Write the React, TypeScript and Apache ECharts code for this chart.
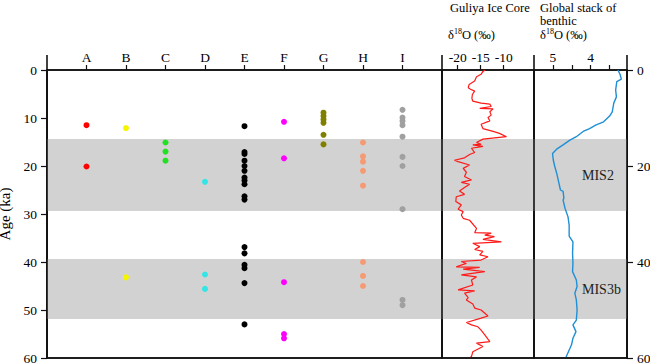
import React, { useEffect, useRef } from "react";
import * as echarts from "echarts";

// ---------- data ----------
const CATEGORIES = ["A", "B", "C", "D", "E", "F", "G", "H", "I"];
const AGES_A = [11.5, 20.1];
const AGES_B = [12.1, 43.2];
const AGES_C = [15.1, 17.0, 18.9];
const AGES_D = [23.3, 42.6, 45.6];
const AGES_E = [11.7, 17.1, 17.5, 18.9, 20.0, 21.0, 22.4, 23.0, 23.8, 26.3, 27.0, 36.9, 38.2, 40.6, 41.3, 44.4, 53.0];
const AGES_F = [10.8, 18.4, 44.2, 55.0, 55.9];
const AGES_G = [8.9, 9.6, 10.3, 11.0, 13.5, 15.5];
const AGES_H = [15.1, 18.0, 19.1, 21.0, 24.1, 40.0, 42.9, 45.0];
const AGES_I = [8.3, 9.9, 10.6, 11.5, 13.9, 18.1, 20.0, 29.0, 47.9, 49.0];
const SITE_AGES = [AGES_A, AGES_B, AGES_C, AGES_D, AGES_E, AGES_F, AGES_G, AGES_H, AGES_I];

const ICE_AGE = [
  0, 0.3, 0.9, 1.4, 2.3, 3.0, 3.7, 4.0, 4.4, 5.1, 5.9, 6.5, 6.9, 7.1, 7.6, 8.0, 8.1, 8.7, 9.4, 9.9,
  10.6, 11.3, 12.2, 12.8, 13.2, 13.9, 14.4, 15.1, 15.5, 15.6, 15.9, 16.3, 17.2, 17.6, 18.3, 18.8, 19.1, 19.8, 20.5, 21.3,
  22.2, 22.9, 23.4, 23.8, 24.5, 25.2, 25.9, 26.4, 27.4, 28.1, 29.0, 29.5, 30.2, 30.9, 31.3, 33.0, 33.9, 34.0, 34.4, 34.7,
  35.3, 35.8, 36.1, 36.8, 37.4, 37.8, 38.5, 38.9, 39.6, 39.9, 40.3, 41.0, 41.1, 41.5, 42.0, 42.7, 43.1, 43.75, 44.8, 45.8,
  46.0, 46.5, 47.4, 47.9, 48.75, 49.6, 50.0, 51.25, 51.7, 52.6, 53.1, 53.5, 54.2, 55.2, 56.6, 56.9, 57.6, 58.7, 59.7, 60
];
const ICE_D18O = [
  -14.0, -14.5, -14.9, -15.9, -16.3, -17.5, -17.7, -17.2, -16.3, -16.8, -16.9, -16.7, -14.9, -13.0, -12.7, -15.2, -12.3, -13.0, -12.7, -13.4,
  -13.0, -14.9, -14.5, -12.3, -10.9, -9.4, -14.5, -15.9, -14.9, -16.7, -14.5, -17.0, -16.3, -17.4, -18.5, -20.7, -19.9, -17.4, -18.8, -18.1,
  -18.5, -17.0, -19.2, -17.4, -18.5, -19.6, -18.5, -20.3, -20.4, -19.2, -19.9, -18.8, -19.2, -18.8, -17.4, -15.9, -16.3, -12.7, -14.1, -12.0,
  -14.5, -10.5, -16.7, -15.2, -16.3, -14.5, -15.2, -13.4, -14.9, -19.2, -18.1, -20.3, -15.2, -18.8, -14.1, -19.2, -15.9, -17.0, -16.7, -19.9,
  -16.3, -18.5, -17.7, -18.1, -16.7, -16.3, -14.9, -13.4, -14.9, -18.1, -17.0, -15.6, -14.9, -14.1, -13.0, -15.9, -14.5, -16.7, -17.0, -17.4
];

const BENTHIC_AGE = [
  0, 1.0, 1.9, 2.4, 4.2, 5.6, 6.9, 8.7, 9.6, 10.8, 11.5, 12.2, 12.8, 13.9, 14.6, 15.6, 16.5, 17.4, 18.75, 20.1,
  21.5, 22.9, 25.0, 25.3, 26.7, 27.1, 28.8, 30.6, 32.3, 34.6, 35.8, 38.2, 40.3, 42.0, 43.75, 45.1, 46.5, 47.9, 50.0, 52.1,
  53.1, 54.5, 55.9, 57.3, 59.6, 60
];
const BENTHIC_D18O = [
  3.28, 3.22, 3.19, 3.31, 3.34, 3.32, 3.39, 3.43, 3.50, 3.66, 3.87, 4.03, 4.20, 4.38, 4.55, 4.73, 4.90, 5.01, 4.99, 4.95,
  4.90, 4.86, 4.80, 4.73, 4.71, 4.73, 4.68, 4.60, 4.57, 4.57, 4.47, 4.48, 4.47, 4.48, 4.38, 4.36, 4.42, 4.38, 4.36, 4.38,
  4.47, 4.39, 4.47, 4.51, 4.64, 4.66
];

const AGE_TICK_INTERVAL_LEFT = 10;
const AGE_TICK_INTERVAL_RIGHT = 20;
const SITE_POSITIONS = [1, 2, 3, 4, 5, 6, 7, 8, 9];
const ICE_TICKS = [-20, -15, -10];
const BENTHIC_LABELS = [5, 4];
const BENTHIC_TICKS = [5, 4.5, 4, 3.5];
const MIS_NAMES = ["MIS2", "MIS3b"];
const MIS_FROM = [14.4, 39.4];
const MIS_TO = [29.4, 51.9];

// ---------- styles / layout ----------
const SITE_COLORS = ["#ff0000", "#f5f500", "#22e022", "#33e5e5", "#000000", "#ff00ff", "#808000", "#f59a72", "#a0a0a0"];
const FONT = "Liberation Serif";
const AXIS = "#111111";
const L = 47, M1 = 442, M2 = 534, R = 627, T = 70, B = 358;
const LW = 1.6;

export default function App() {
  const ref = useRef<HTMLDivElement>(null);
  useEffect(() => {
    document.body.style.margin = "0";
    const chart = echarts.init(ref.current!, null, { renderer: "svg" });
    const labelStyle = { color: "#000", fontFamily: FONT, fontSize: 13.5 };
    const lineSt = { color: AXIS, width: 1.5 };
    const tick = (len: number, customValues?: number[]) => ({
      show: true,
      length: len,
      lineStyle: { color: AXIS, width: 1.2 },
      ...(customValues ? { customValues } : {}),
    });
    const bandData = (withLabel: boolean) =>
      MIS_NAMES.map((n, i) => [
        {
          yAxis: MIS_FROM[i],
          name: withLabel ? n : "",
          label: withLabel
            ? {
                show: true,
                position: [48, "50%"],
                align: "left",
                verticalAlign: "middle",
                color: "#222",
                fontFamily: FONT,
                fontSize: 14,
                formatter: n,
              }
            : { show: false },
        },
        { yAxis: MIS_TO[i] },
      ]);
    const bandSeries = (k: number, withLabel: boolean) => ({
      type: "line",
      xAxisIndex: k,
      yAxisIndex: k,
      data: [],
      z: 0,
      silent: true,
      markArea: {
        silent: true,
        itemStyle: { color: "#d2d2d2", borderWidth: 0 },
        data: bandData(withLabel),
      },
    });
    const gridBase = {
      top: T,
      height: B - T,
      containLabel: false,
      outerBoundsMode: "none",
      show: true,
      borderColor: AXIS,
      borderWidth: 1.5,
      backgroundColor: "transparent",
    };

    const option: any = {
      animation: false,
      backgroundColor: "#fff",
      grid: [
        { ...gridBase, left: L, width: M1 - L },
        { ...gridBase, left: M1, width: M2 - M1 },
        { ...gridBase, left: M2, width: R - M2 },
      ],
      xAxis: [
        {
          gridIndex: 0,
          type: "value",
          position: "top",
          min: 0,
          max: 10,
          axisLine: { show: true, onZero: false, lineStyle: lineSt },
          axisTick: tick(5, SITE_POSITIONS),
          axisLabel: {
            ...labelStyle,
            margin: 6,
            customValues: SITE_POSITIONS,
            formatter: (v: number) => CATEGORIES[Math.round(v) - 1] ?? "",
          },
          splitLine: { show: false },
        },
        {
          gridIndex: 1,
          type: "value",
          position: "top",
          min: -23.4,
          max: -3.4,
          axisLine: { show: true, onZero: false, lineStyle: lineSt },
          axisTick: tick(5, ICE_TICKS),
          axisLabel: { ...labelStyle, margin: 6, customValues: ICE_TICKS },
          splitLine: { show: false },
        },
        {
          gridIndex: 2,
          type: "value",
          position: "top",
          min: 3.04,
          max: 5.5,
          inverse: true,
          axisLine: { show: true, onZero: false, lineStyle: lineSt },
          axisTick: tick(5, BENTHIC_TICKS),
          axisLabel: { ...labelStyle, margin: 6, customValues: BENTHIC_LABELS },
          splitLine: { show: false },
        },
      ],
      yAxis: [
        {
          gridIndex: 0,
          type: "value",
          min: 0,
          max: 60,
          interval: AGE_TICK_INTERVAL_LEFT,
          inverse: true,
          axisLine: { show: true, onZero: false, lineStyle: lineSt },
          axisTick: tick(6),
          axisLabel: { ...labelStyle, margin: 10 },
          splitLine: { show: false },
          name: "Age (ka)",
          nameLocation: "middle",
          nameRotate: 90,
          nameGap: 24,
          nameTextStyle: { color: "#000", fontFamily: FONT, fontSize: 15 },
        },
        {
          gridIndex: 1,
          type: "value",
          min: 0,
          max: 60,
          inverse: true,
          show: false,
        },
        {
          gridIndex: 2,
          type: "value",
          position: "right",
          min: 0,
          max: 60,
          interval: AGE_TICK_INTERVAL_RIGHT,
          inverse: true,
          axisLine: { show: true, onZero: false, lineStyle: lineSt },
          axisTick: tick(6),
          axisLabel: { ...labelStyle, margin: 10 },
          splitLine: { show: false },
          name: "Age (ka)",
          nameLocation: "middle",
          nameRotate: -90,
          nameGap: 7,
          nameTextStyle: { color: "#000", fontFamily: FONT, fontSize: 12 },
        },
      ],
      series: [
        bandSeries(0, false),
        bandSeries(1, false),
        bandSeries(2, true),
        ...SITE_AGES.map((ages, i) => ({
          type: "scatter",
          name: CATEGORIES[i],
          xAxisIndex: 0,
          yAxisIndex: 0,
          z: 3,
          symbolSize: 6,
          itemStyle: { color: SITE_COLORS[i], opacity: 1 },
          data: ages.map((a) => [SITE_POSITIONS[i], a]),
        })),
        {
          type: "line",
          name: "Guliya",
          xAxisIndex: 1,
          yAxisIndex: 1,
          z: 3,
          showSymbol: false,
          symbol: "none",
          lineStyle: { color: "#ff1a1a", width: 1.2 },
          data: ICE_AGE.map((a, i) => [ICE_D18O[i], a]),
        },
        {
          type: "line",
          name: "Benthic",
          xAxisIndex: 2,
          yAxisIndex: 2,
          z: 3,
          showSymbol: false,
          symbol: "none",
          lineStyle: { color: "#1f8fd6", width: 1.4 },
          data: BENTHIC_AGE.map((a, i) => [BENTHIC_D18O[i], a]),
        },
      ],
      graphic: [
        ...[L, M1, M2, R].map((x) => ({
          type: "rect",
          z: 50,
          shape: { x: x - LW / 2, y: 55, width: LW, height: B - 55 + LW / 2 },
          style: { fill: AXIS, stroke: "none" },
        })),
        {
          type: "rect",
          z: 50,
          shape: { x: L - LW / 2, y: B - LW / 2, width: R - L + LW, height: LW },
          style: { fill: AXIS, stroke: "none" },
        },
        {
          type: "text",
          z: 50,
          style: { text: "Guliya Ice Core", x: 450, y: 8, verticalAlign: "middle", fill: "#000", fontFamily: FONT, fontSize: 12.5 },
        },
        {
          type: "text",
          z: 50,
          style: {
            text: "{n|δ}{s|18}{n|O (‰)}",
            x: 448,
            y: 35,
            verticalAlign: "middle",
            fill: "#000",
            rich: {
              n: { fontFamily: FONT, fontSize: 12.5, lineHeight: 15, fill: "#000" },
              s: { fontFamily: FONT, fontSize: 8, verticalAlign: "top", fill: "#000" },
            },
          },
        },
        {
          type: "text",
          z: 50,
          style: { text: "Global stack of", x: 540, y: 8, verticalAlign: "middle", fill: "#000", fontFamily: FONT, fontSize: 12.5 },
        },
        {
          type: "text",
          z: 50,
          style: { text: "benthic", x: 540, y: 21, verticalAlign: "middle", fill: "#000", fontFamily: FONT, fontSize: 12.5 },
        },
        {
          type: "text",
          z: 50,
          style: {
            text: "{n|δ}{s|18}{n|O (‰)}",
            x: 540,
            y: 35,
            verticalAlign: "middle",
            fill: "#000",
            rich: {
              n: { fontFamily: FONT, fontSize: 12.5, lineHeight: 15, fill: "#000" },
              s: { fontFamily: FONT, fontSize: 8, verticalAlign: "top", fill: "#000" },
            },
          },
        },
      ],
    };
    chart.setOption(option);
    return () => chart.dispose();
  }, []);
  return <div ref={ref} style={{ width: 650, height: 364 }} />;
}
